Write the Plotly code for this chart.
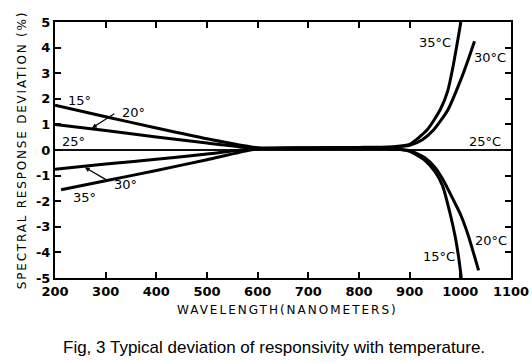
import plotly.graph_objects as go

# Data
wl_15 = [200, 300, 400, 500, 600, 700, 800, 870, 900, 930, 950, 965, 980, 990, 996, 1002]
dev_15 = [1.75, 1.3, 0.86, 0.44, 0.09, 0.08, 0.08, 0.05, -0.05, -0.4, -0.85, -1.4, -2.5, -3.4, -4.1, -5.0]

wl_20 = [200, 300, 400, 500, 600, 700, 800, 870, 900, 930, 950, 967, 985, 1000, 1015, 1036]
dev_20 = [1.0, 0.76, 0.51, 0.27, 0.07, 0.07, 0.07, 0.04, -0.03, -0.3, -0.68, -1.2, -1.9, -2.5, -3.3, -4.7]

wl_25 = [200, 1100]
dev_25 = [0.0, 0.0]

wl_30 = [200, 300, 400, 500, 600, 700, 800, 870, 900, 925, 947, 975, 1000, 1015, 1028]
dev_30 = [-0.75, -0.55, -0.36, -0.16, 0.06, 0.08, 0.09, 0.12, 0.18, 0.4, 0.78, 1.55, 2.7, 3.5, 4.25]

wl_35 = [212, 300, 400, 500, 600, 700, 800, 870, 900, 935, 961, 975, 986, 995, 1001]
dev_35 = [-1.55, -1.2, -0.8, -0.38, 0.05, 0.08, 0.1, 0.13, 0.22, 0.8, 1.6, 2.3, 3.3, 4.3, 5.0]

x_ticks = [200, 300, 400, 500, 600, 700, 800, 900, 1000, 1100]
y_ticks = [-5, -4, -3, -2, -1, 0, 1, 2, 3, 4, 5]

fig = go.Figure()
for wl, dev, w in [(wl_15, dev_15, 3), (wl_20, dev_20, 3), (wl_30, dev_30, 3), (wl_35, dev_35, 3), (wl_25, dev_25, 1.6)]:
    fig.add_trace(go.Scatter(x=wl, y=dev, mode="lines",
                             line=dict(color="black", width=w, shape="spline", smoothing=0.6),
                             showlegend=False, hoverinfo="skip", cliponaxis=True))

lab_font = dict(family="DejaVu Sans", size=13, color="black")
labels = [
    (249, 1.95, "15°"), (354, 1.45, "20°"), (236, 0.32, "25°"),
    (340, -1.35, "30°"), (258, -1.85, "35°"),
    (950, 4.2, "35°C"), (1058, 3.6, "30°C"), (1048, 0.32, "25°C"),
    (1061, -3.55, "20°C"), (958, -4.15, "15°C"),
]
for x, y, t in labels:
    fig.add_annotation(x=x, y=y, text=t, showarrow=False, font=lab_font)

# leader lines
fig.add_annotation(x=273, y=0.86, ax=320, ay=1.45, axref="x", ayref="y",
                   text="", showarrow=True, arrowhead=2, arrowsize=0.8, arrowwidth=1.2, arrowcolor="black")
fig.add_annotation(x=259, y=-0.68, ax=306, ay=-1.22, axref="x", ayref="y",
                   text="", showarrow=True, arrowhead=2, arrowsize=0.8, arrowwidth=1.2, arrowcolor="black")

# axis titles and caption
fig.add_annotation(x=0.51, y=-0.09, xref="paper", yref="paper", xanchor="center", yanchor="top",
                   text='<span style="letter-spacing:2px">WAVELENGTH(NANOMETERS)</span>',
                   showarrow=False, font=dict(family="DejaVu Sans", size=12, color="black"))
fig.add_annotation(x=-0.072, y=0.5, xref="paper", yref="paper", xanchor="center", yanchor="middle",
                   textangle=-90,
                   text='<span style="letter-spacing:1.8px">SPECTRAL RESPONSE DEVIATION (%)</span>',
                   showarrow=False, font=dict(family="DejaVu Sans", size=12, color="black"))
fig.add_annotation(x=0.48, y=-0.273, xref="paper", yref="paper", xanchor="center", yanchor="middle",
                   text="Fig, 3 Typical deviation of responsivity with temperature.",
                   showarrow=False, font=dict(family="Liberation Sans", size=17, color="black"))

axis_common = dict(showgrid=False, zeroline=False, showline=True, linecolor="black", linewidth=2,
                   mirror="ticks", ticks="inside", ticklen=6, tickwidth=1.5, tickcolor="black",
                   automargin=False,
                   tickfont=dict(family="DejaVu Sans", size=13, color="black", weight="bold"))

fig.update_xaxes(range=[200, 1100], tickvals=x_ticks, ticktext=[str(v) for v in x_ticks], **axis_common)
fig.update_yaxes(range=[-5, 5], tickvals=y_ticks, ticktext=[str(v) for v in y_ticks], **axis_common)
fig.add_hline(y=0, line=dict(color="black", width=1.6))

fig.update_layout(width=532, height=363, margin=dict(l=55, r=21, t=22, b=85, autoexpand=False),
                  plot_bgcolor="white", paper_bgcolor="white")

fig.write_html("out.html", config={"displayModeBar": False},
               post_script="document.body.style.margin='0';")
